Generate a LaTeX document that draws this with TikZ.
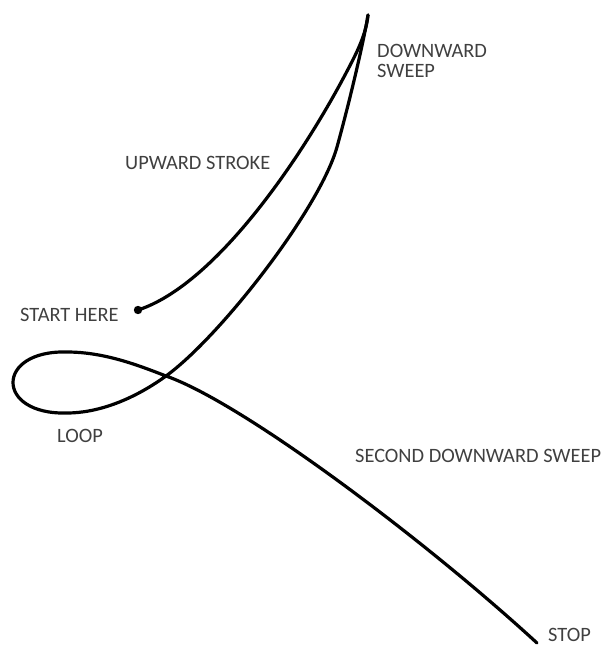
\documentclass[tikz,border=0pt]{standalone}
\usepackage{fontspec}
\setmainfont{Carlito}
\begin{document}
\begin{tikzpicture}[x=1pt,y=-1pt,
  stroke/.style={line width=3.2pt,line cap=round,line join=round,black},
  lbl/.style={anchor=base west,inner sep=0pt,text=black!75,font=\fontsize{20.4}{24}\selectfont}]
\useasboundingbox (0,0) rectangle (603,648);
\coordinate (start) at (138,310);
\coordinate (upmid) at (345,75);
\coordinate (top) at (368,15);
\coordinate (downmid) at (337,147);
\coordinate (cross) at (166,376);
\coordinate (loopbot) at (67,413);
\coordinate (looptop) at (67,352);
\coordinate (stop) at (537,643);
% upward stroke
\draw[stroke] (start) .. controls (215,285) and (300,160) .. (upmid)
  .. controls (355,56) and (366,36) .. (top);
% downward sweep, loop, second downward sweep
\draw[stroke] (top) .. controls (364,40) and (350,100) .. (downmid)
  .. controls (320,208) and (221,336) .. (cross)
  .. controls (130,402) and (95,413) .. (loopbot)
  .. controls (-5,415) and (-5,350) .. (looptop)
  .. controls (105,352) and (140,366) .. (cross)
  .. controls (243,403) and (425,540) .. (stop);
\fill (start) circle (4.2pt);
\node[lbl] (ldown) at (377,57) {DOWNWARD};
\node[lbl] (lsweep) at (377,77) {SWEEP};
\node[lbl] (lup) at (125,169) {UPWARD STROKE};
\node[lbl] (lstart) at (20,321) {START HERE};
\node[lbl] (lloop) at (57,442) {LOOP};
\node[lbl] (lsecond) at (355,462) {SECOND DOWNWARD SWEEP};
\node[lbl] (lstop) at (548,641) {STOP};
\end{tikzpicture}
\end{document}
